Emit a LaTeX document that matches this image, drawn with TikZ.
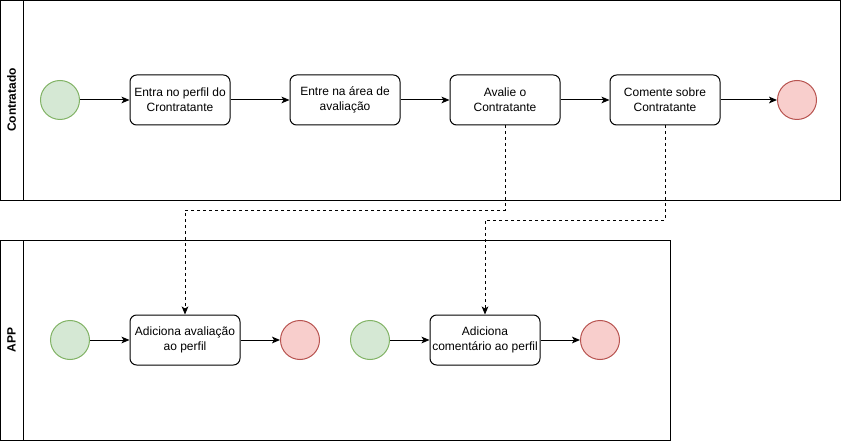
\documentclass[tikz,border=0pt]{standalone}
\usepackage{fontspec}
\setmainfont{Liberation Sans}
\usetikzlibrary{shapes,arrows,arrows.meta,positioning}
\definecolor{startfill}{HTML}{D5E8D4}
\definecolor{startline}{HTML}{82B366}
\definecolor{stopfill}{HTML}{F8CECC}
\definecolor{stopline}{HTML}{B85450}

\begin{document}
\begin{tikzpicture}[x=0.75pt,y=-0.75pt,line width=0.75pt,>={Stealth[length=6pt,width=5pt,inset=1.5pt]},
  task/.style={draw,rounded corners=5pt,align=center,minimum width=82.5pt,minimum height=37.5pt,inner sep=1pt,font=\fontsize{9}{11}\selectfont},
  start/.style={draw=startline,fill=startfill,circle,minimum size=29.25pt,inner sep=0pt},
  stop/.style={draw=stopline,fill=stopfill,circle,minimum size=29.25pt,inner sep=0pt},
  lane/.style={rotate=90,font=\bfseries\fontsize{9}{11}\selectfont}]
  \useasboundingbox (0,0) rectangle (841,441);
  % pools
  \draw (0.5,0.5) rectangle (840.5,200.5);
  \draw (23,0.5) -- (23,200.5);
  \draw (0.5,240.5) rectangle (670,440.5);
  \draw (23,240.5) -- (23,440.5);
  \node[lane] (contratado) at (11.5,100) {Contratado};
  \node[lane] (app) at (11.5,340) {APP};
  % contratado
  \node[start] (s1) at (60,100) {};
  \node[task,minimum width=75pt] (perfil) at (180,100) {Entra no perfil do\\Crontratante};
  \node[task] (area) at (345,100) {Entre na área de\\avaliação};
  \node[task] (avalie) at (505,100) {Avalie o\\Contratante};
  \node[task] (comente) at (665,100) {Comente sobre\\Contratante};
  \node[stop] (e1) at (797,100) {};
  \draw[->] (s1) -- (perfil);
  \draw[->] (perfil) -- (area);
  \draw[->] (area) -- (avalie);
  \draw[->] (avalie) -- (comente);
  \draw[->] (comente) -- (e1);
  % app
  \node[start] (s2) at (70,340) {};
  \node[task] (addava) at (185,340) {Adiciona avaliação\\ao perfil};
  \node[stop] (e2) at (300,340) {};
  \node[start] (s3) at (370,340) {};
  \node[task] (addcom) at (485,340) {Adiciona\\comentário ao perfil};
  \node[stop] (e3) at (600,340) {};
  \draw[->] (s2) -- (addava);
  \draw[->] (addava) -- (e2);
  \draw[->] (s3) -- (addcom);
  \draw[->] (addcom) -- (e3);
  % messages
  \draw[->,dash pattern=on 2.25pt off 2.25pt] (avalie.south) -- ++(0,85) -| (addava.north);
  \draw[->,dash pattern=on 2.25pt off 2.25pt] (comente.south) -- ++(0,95) -| (addcom.north);
\end{tikzpicture}
\end{document}
